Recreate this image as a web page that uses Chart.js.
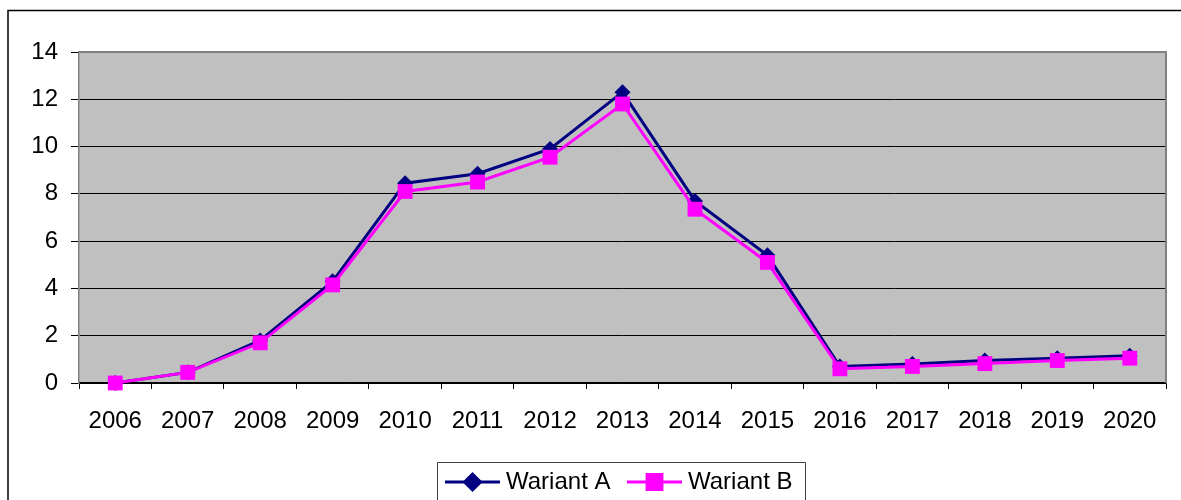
<!DOCTYPE html>
<html lang="pl">
<head>
<meta charset="UTF-8">
<title>Wariant A / Wariant B</title>
<script src="https://cdn.jsdelivr.net/npm/chart.js"></script>
<style>
  html, body { margin: 0; padding: 0; background: #fff; }
  #wrap { width: 1181px; height: 500px; position: relative; }
</style>
</head>
<body>
<div id="wrap"><canvas id="chart"></canvas></div>
<script>
const years = ['2006', '2007', '2008', '2009', '2010', '2011', '2012', '2013', '2014', '2015', '2016', '2017', '2018', '2019', '2020'];
const wariantA = [0, 0.45, 1.8, 4.3, 8.45, 8.85, 9.9, 12.3, 7.7, 5.4, 0.7, 0.8, 0.95, 1.05, 1.15];
const wariantB = [0, 0.45, 1.7, 4.15, 8.1, 8.5, 9.55, 11.8, 7.35, 5.1, 0.6, 0.7, 0.82, 0.95, 1.05];
const yMax = 14;
const yStep = 2;

const FONT = "'Liberation Sans', Arial, sans-serif";

// gray plot background, outer frame and the boxed legend
const excelLook = {
    id: 'excelLook',
    beforeDraw(chart) {
        const { ctx, chartArea: a } = chart;
        ctx.save();
        ctx.fillStyle = '#c0c0c0';
        ctx.fillRect(a.left, a.top, a.right - a.left, a.bottom - a.top);
        ctx.restore();
    },
    beforeDatasetsDraw(chart) {
        const { ctx, chartArea: a } = chart;
        ctx.save();
        // plot border top/right
        ctx.strokeStyle = '#808080';
        ctx.lineWidth = 2;
        ctx.beginPath();
        ctx.moveTo(a.left, a.top);
        ctx.lineTo(a.right, a.top);
        ctx.lineTo(a.right, a.bottom);
        ctx.stroke();
        ctx.restore();
    },
    afterDraw(chart) {
        const { ctx } = chart;
        ctx.save();
        // outer frame (runs off the right and bottom edges)
        ctx.strokeStyle = '#000';
        ctx.lineWidth = 1.5;
        ctx.beginPath();
        ctx.moveTo(8, 500);
        ctx.lineTo(8, 10.5);
        ctx.lineTo(1181, 10.5);
        ctx.stroke();

        // legend box
        ctx.strokeStyle = '#404040';
        ctx.lineWidth = 1;
        ctx.beginPath();
        ctx.moveTo(437.5, 501);
        ctx.lineTo(437.5, 462.5);
        ctx.lineTo(805.5, 462.5);
        ctx.lineTo(805.5, 501);
        ctx.stroke();

        const items = [
            { ds: chart.data.datasets[0], x: 445 },
            { ds: chart.data.datasets[1], x: 627 }
        ];
        const ly = 482;
        items.forEach(it => {
            ctx.strokeStyle = it.ds.borderColor;
            ctx.lineWidth = 3;
            ctx.beginPath();
            ctx.moveTo(it.x, ly);
            ctx.lineTo(it.x + 55, ly);
            ctx.stroke();
            Chart.helpers.drawPoint(ctx, {
                pointStyle: it.ds.pointStyle,
                radius: it.ds.pointRadius,
                borderWidth: 1
            }, it.x + 27.5, ly);
            ctx.fillStyle = it.ds.pointBackgroundColor;
            ctx.fill();
            ctx.fillStyle = '#000';
            ctx.font = '24px ' + FONT;
            ctx.textBaseline = 'middle';
            ctx.textAlign = 'left';
            ctx.fillText(it.ds.label, it.x + 61, ly);
        });
        ctx.restore();
    }
};

new Chart(document.getElementById('chart'), {
    type: 'line',
    data: {
        labels: years,
        datasets: [
            {
                label: 'Wariant A',
                data: wariantA,
                borderColor: '#000080',
                backgroundColor: '#000080',
                pointBackgroundColor: '#000080',
                pointBorderColor: '#000080',
                pointStyle: 'rectRot',
                pointRadius: 8,
                pointBorderWidth: 0,
                borderWidth: 3,
                tension: 0,
                clip: false,
                order: 2
            },
            {
                label: 'Wariant B',
                data: wariantB,
                borderColor: '#ff00ff',
                backgroundColor: '#ff00ff',
                pointBackgroundColor: '#ff00ff',
                pointBorderColor: '#ff00ff',
                pointStyle: 'rect',
                pointRadius: 10.5,
                pointBorderWidth: 0,
                borderWidth: 3,
                tension: 0,
                clip: false,
                order: 1
            }
        ]
    },
    options: {
        responsive: true,
        maintainAspectRatio: false,
        animation: false,
        events: [],
        layout: { padding: { top: 52, right: 15, left: 0, bottom: 0 } },
        plugins: {
            legend: { display: false },
            tooltip: { enabled: false }
        },
        scales: {
            x: {
                offset: true,
                grid: {
                    offset: true,
                    drawOnChartArea: false,
                    drawTicks: true,
                    tickLength: 6,
                    color: '#000'
                },
                border: { color: '#000', width: 1.5 },
                ticks: {
                    color: '#000',
                    font: { family: FONT, size: 24 },
                    padding: 18,
                    maxRotation: 0,
                    autoSkip: false
                },
                afterFit(scale) { scale.height = 117; }
            },
            y: {
                min: 0,
                max: yMax,
                grid: {
                    color: '#000',
                    lineWidth: 1,
                    tickLength: 8
                },
                border: { color: '#808080', width: 1.5 },
                ticks: {
                    stepSize: yStep,
                    color: '#000',
                    font: { family: FONT, size: 24 },
                    padding: 13
                },
                afterFit(scale) { scale.width = 79; }
            }
        }
    },
    plugins: [excelLook]
});
</script>
</body>
</html>
